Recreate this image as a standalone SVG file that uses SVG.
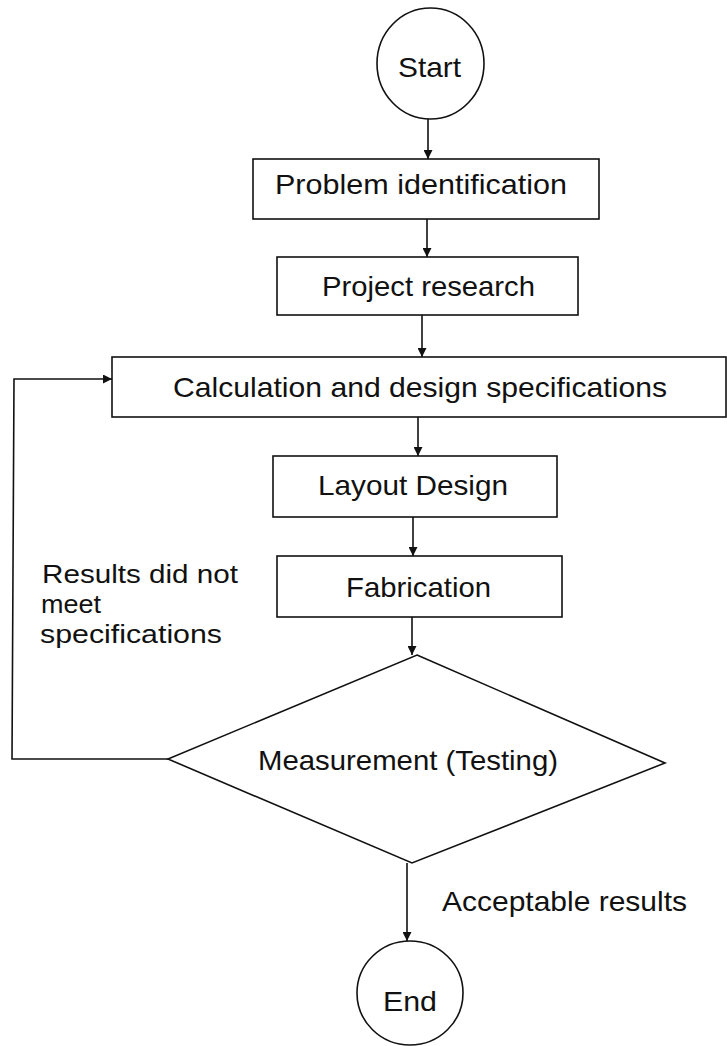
<svg xmlns="http://www.w3.org/2000/svg" width="727" height="1046" viewBox="0 0 727 1046">
  <style>
    .shape { fill: #ffffff; stroke: #111111; stroke-width: 1.6; }
    .edge { fill: none; stroke: #111111; stroke-width: 1.6; }
    .label { font-family: "Liberation Sans", Arial, sans-serif; font-size: 28px; fill: #111111; }
    .note { font-family: "Liberation Sans", Arial, sans-serif; font-size: 26px; fill: #111111; }
  </style>
  <defs>
    <marker id="arrow" viewBox="0 0 10 10" refX="10" refY="5" markerWidth="9" markerHeight="9" markerUnits="userSpaceOnUse" orient="auto">
      <path d="M0,0 L10,5 L0,10 z" fill="#111111"/>
    </marker>
  </defs>

  <rect width="727" height="1046" fill="#ffffff"/>

  <!-- connectors -->
  <g id="connectors">
    <line class="edge" x1="428" y1="119" x2="428" y2="159" marker-end="url(#arrow)"/>
    <line class="edge" x1="427" y1="219" x2="427" y2="257" marker-end="url(#arrow)"/>
    <line class="edge" x1="422" y1="315" x2="422" y2="357" marker-end="url(#arrow)"/>
    <line class="edge" x1="418" y1="417" x2="418" y2="456" marker-end="url(#arrow)"/>
    <line class="edge" x1="413" y1="517" x2="413" y2="556" marker-end="url(#arrow)"/>
    <line class="edge" x1="412" y1="617" x2="412" y2="655" marker-end="url(#arrow)"/>
    <line class="edge" x1="407" y1="863" x2="407" y2="941" marker-end="url(#arrow)"/>
    <!-- loop back when results fail -->
    <polyline class="edge" points="168,759 12,759 14,379 112,379" marker-end="url(#arrow)"/>
  </g>

  <g id="start">
    <ellipse class="shape" cx="430.5" cy="63.5" rx="53.5" ry="55.5"/>
    <text class="label" x="398" y="77" textLength="63" lengthAdjust="spacingAndGlyphs">Start</text>
  </g>

  <g id="problem-identification">
    <rect class="shape" x="253" y="159" width="346" height="60"/>
    <text class="label" x="275" y="194" textLength="292" lengthAdjust="spacingAndGlyphs">Problem identification</text>
  </g>

  <g id="project-research">
    <rect class="shape" x="277" y="257" width="301" height="58"/>
    <text class="label" x="322" y="296" textLength="213" lengthAdjust="spacingAndGlyphs">Project research</text>
  </g>

  <g id="calculation">
    <rect class="shape" x="112" y="357" width="614" height="60"/>
    <text class="label" x="173" y="397" textLength="494" lengthAdjust="spacingAndGlyphs">Calculation and design specifications</text>
  </g>

  <g id="layout-design">
    <rect class="shape" x="273" y="456" width="284" height="61"/>
    <text class="label" x="318" y="495" textLength="190" lengthAdjust="spacingAndGlyphs">Layout Design</text>
  </g>

  <g id="fabrication">
    <rect class="shape" x="277" y="556" width="285" height="61"/>
    <text class="label" x="346" y="597" textLength="145" lengthAdjust="spacingAndGlyphs">Fabrication</text>
  </g>

  <g id="measurement">
    <polygon class="shape" points="417,655 665,763 412,863 168,759"/>
    <text class="label" x="258" y="770" textLength="300" lengthAdjust="spacingAndGlyphs">Measurement (Testing)</text>
  </g>

  <g id="end">
    <ellipse class="shape" cx="410" cy="993" rx="53" ry="52"/>
    <text class="label" x="383" y="1011" textLength="54" lengthAdjust="spacingAndGlyphs">End</text>
  </g>

  <g id="edge-labels">
    <text class="note" x="42" y="583" textLength="196" lengthAdjust="spacingAndGlyphs">Results did not</text>
    <text class="note" x="41" y="613" textLength="60" lengthAdjust="spacingAndGlyphs">meet</text>
    <text class="note" x="40" y="643" textLength="182" lengthAdjust="spacingAndGlyphs">specifications</text>
    <text class="label" x="442" y="911" textLength="245" lengthAdjust="spacingAndGlyphs">Acceptable results</text>
  </g>
</svg>
